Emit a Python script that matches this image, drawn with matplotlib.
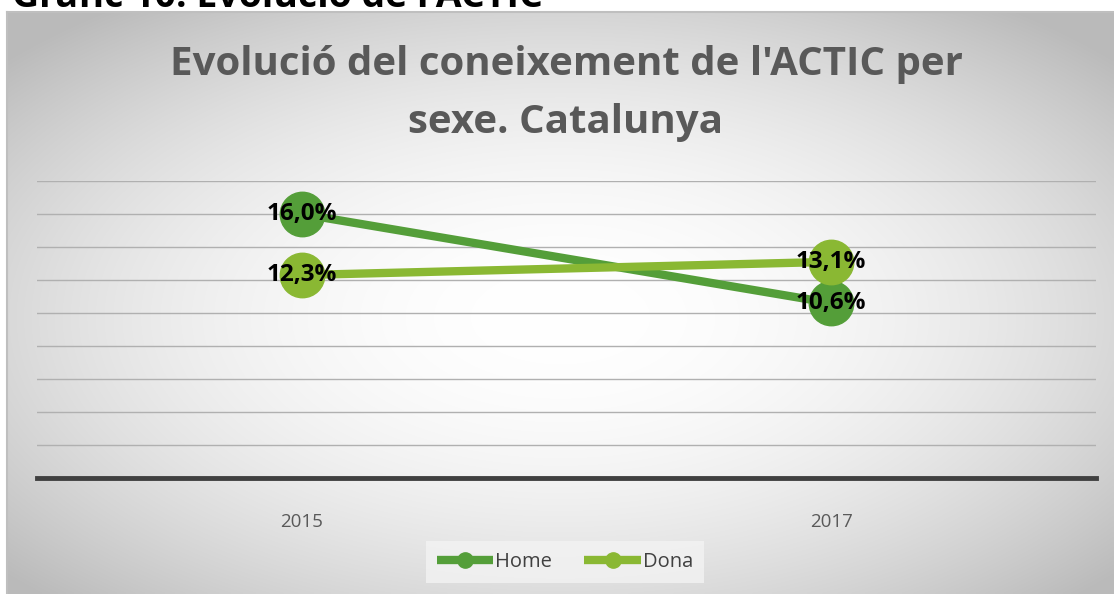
import numpy as np
import matplotlib
matplotlib.use('Agg')
import matplotlib.pyplot as plt

years = ['2015', '2017']
home = [16.0, 10.6]
dona = [12.3, 13.1]
series_names = ['Home', 'Dona']
colors = ['#549E39', '#8AB833']

W, H = 1114, 594
fig = plt.figure(figsize=(W / 100, H / 100), dpi=100)
fig.patch.set_facecolor('white')

# chart frame with radial gradient
bg = fig.add_axes([7 / W, 0, 1 - 7 / W, 582 / H])
nx, ny = 400, 220
xx, yy = np.meshgrid(np.linspace(-1, 1, nx), np.linspace(-1.05, 0.95, ny))
r = np.sqrt(xx ** 2 + yy ** 2) / np.sqrt(2)
shade = 1 - 0.27 * np.clip(r / 0.95, 0, 1) ** 2.0
img = np.dstack([shade, shade, shade])
bg.imshow(img, aspect='auto', extent=[0, 1, 0, 1], interpolation='bilinear')
bg.set_xlim(0, 1)
bg.set_ylim(0, 1)
bg.axis('off')
bg.plot([0, 1], [1, 1], color='#bfbfbf', lw=1.5, transform=bg.transAxes, clip_on=False)
bg.plot([0, 0], [0, 1], color='#bfbfbf', lw=1.5, transform=bg.transAxes, clip_on=False)

# caption above the chart, cut off by the top edge
fig.text(12 / W, 1 - 7 / H, "Gràfic 10. Evolució de l'ACTIC", fontsize=27,
         fontweight='bold', family='Open Sans', color='black', ha='left', va='baseline')

ax = fig.add_axes([37 / W, 116 / H, 1059 / W, 297 / H])
ax.patch.set_alpha(0)
x = np.arange(len(years))
ax.set_xlim(-0.5, 1.5)
ax.set_ylim(0, 18)
ax.set_yticks(np.arange(2, 19, 2))
ax.yaxis.grid(True, color='#b0b0b0', lw=1)
ax.set_axisbelow(True)
ax.tick_params(axis='y', left=False, labelleft=False)
ax.tick_params(axis='x', bottom=False, pad=22)
ax.set_xticks(x)
ax.set_xticklabels(years, fontsize=13.5, color='#595959', family='Open Sans')
for s in ['top', 'right', 'left']:
    ax.spines[s].set_visible(False)
ax.spines['bottom'].set_color('#404040')
ax.spines['bottom'].set_linewidth(3.5)

for vals, name, c, z in zip([home, dona], series_names, colors, [3, 4]):
    ax.plot(x, vals, color=c, lw=6, marker='o', markersize=32, label=name,
            zorder=z, solid_capstyle='butt')
    for xi, v in zip(x, vals):
        ax.text(xi, v, f'{v:.1f}%'.replace('.', ','), ha='center', va='center',
                fontsize=17.5, fontweight='bold', family='Open Sans', color='black', zorder=6)

fig.text(566 / W, 1 - 65 / H, "Evolució del coneixement de l'ACTIC per", ha='center', va='center',
         fontsize=29, fontweight='bold', family='Open Sans', color='#595959')
fig.text(566 / W, 1 - 122 / H, "sexe. Catalunya", ha='center', va='center',
         fontsize=29, fontweight='bold', family='Open Sans', color='#595959')

leg = fig.legend(loc='center', bbox_to_anchor=(565 / W, 1 - 562 / H),
                 ncol=2, frameon=True, handlelength=2.8, handletextpad=0.1,
                 columnspacing=1.6, borderpad=0.55, prop={'family': 'Open Sans', 'size': 14.5})
for h in leg.legend_handles:
    h.set_markersize(11)
leg.get_frame().set_facecolor('#f3f3f3')
leg.get_frame().set_edgecolor('none')
leg.get_frame().set_boxstyle('square', pad=0.0)
for t in leg.get_texts():
    t.set_color('#404040')

fig.savefig('out.png', dpi=100)
